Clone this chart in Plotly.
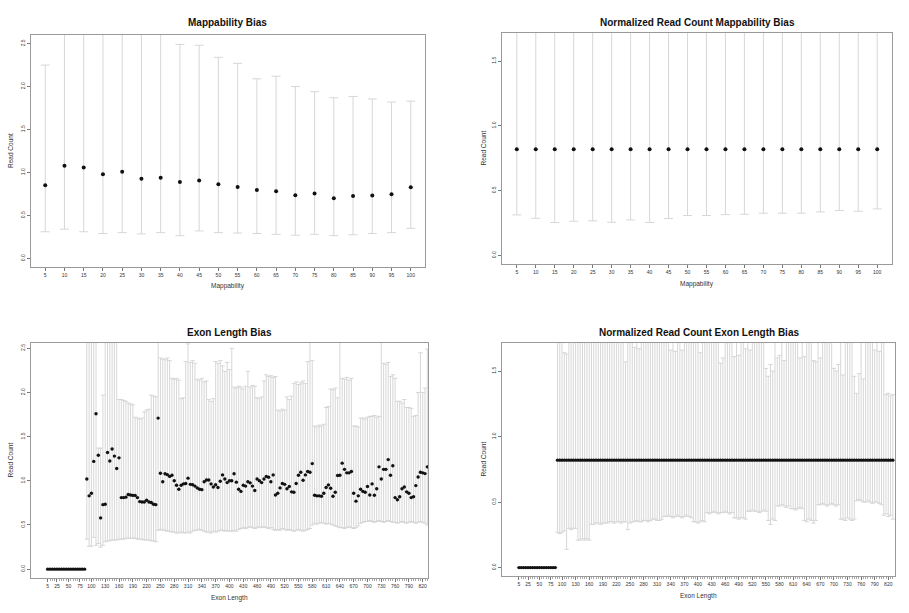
import plotly.graph_objects as go

# ---------------- data ----------------
mappability = [5, 10, 15, 20, 25, 30, 35, 40, 45, 50, 55, 60, 65, 70, 75, 80, 85, 90, 95, 100]
map_tick_text = [str(v) for v in mappability]

map_mean = [0.85, 1.077, 1.058, 0.98, 1.008, 0.927, 0.938, 0.888, 0.908, 0.862,
            0.831, 0.796, 0.781, 0.735, 0.754, 0.70, 0.727, 0.731, 0.746, 0.827]
map_upper = [2.25, 2.8, 2.8, 2.8, 2.8, 2.8, 2.8, 2.49, 2.48, 2.34,
             2.27, 2.09, 2.12, 2.0, 1.94, 1.87, 1.885, 1.855, 1.82, 1.83]
map_lower = [0.31, 0.34, 0.31, 0.29, 0.30, 0.285, 0.30, 0.265, 0.32, 0.30,
             0.295, 0.29, 0.28, 0.27, 0.28, 0.265, 0.275, 0.29, 0.30, 0.35]

norm_map_mean = [0.82, 0.82, 0.82, 0.82, 0.82, 0.82, 0.82, 0.82, 0.82, 0.82,
                 0.82, 0.82, 0.82, 0.82, 0.82, 0.82, 0.82, 0.82, 0.82, 0.82]
norm_map_upper = [1.9, 1.9, 1.9, 1.9, 1.9, 1.9, 1.9, 1.9, 1.9, 1.9,
                  1.9, 1.9, 1.9, 1.9, 1.9, 1.9, 1.9, 1.9, 1.9, 1.9]
norm_map_lower = [0.313, 0.287, 0.254, 0.264, 0.267, 0.256, 0.274, 0.254, 0.285, 0.308,
                  0.308, 0.315, 0.318, 0.326, 0.326, 0.326, 0.336, 0.346, 0.341, 0.359]

exon_length = list(range(5, 835, 5))  # 166 categories: 5, 10, ..., 830
exon_tick_vals = [5, 25, 50, 75, 100, 130, 160, 190, 220, 250, 280, 310, 340, 370, 400,
                  430, 460, 490, 520, 550, 580, 610, 640, 670, 700, 730, 760, 790, 820]
exon_tick_text = [str(v) for v in exon_tick_vals]

zeros17 = [0, 0, 0, 0, 0, 0, 0, 0, 0, 0, 0, 0, 0, 0, 0, 0, 0]

exon_mean = zeros17 + [
    1.02, 0.83, 0.86, 1.22, 1.76, 1.29, 0.58, 0.73, 0.735, 1.32,
    1.225, 1.36, 1.28, 1.14, 1.26, 0.81, 0.81, 0.815, 0.845, 0.84,
    0.835, 0.835, 0.81, 0.765, 0.76, 0.76, 0.78, 0.76, 0.755, 0.735,
    0.73, 1.71, 1.086, 0.99, 1.08, 1.07, 1.05, 1.063, 1.0, 0.95,
    0.905, 0.95, 0.965, 0.97, 1.03, 0.96, 0.955, 0.94, 0.92, 0.905,
    0.90, 0.99, 1.01, 1.01, 0.965, 0.93, 0.955, 0.925, 0.995, 1.067,
    1.02, 0.98, 1.0, 1.0, 1.08, 0.985, 0.905, 0.88, 0.95, 0.94,
    0.99, 0.977, 0.94, 0.89, 1.02, 1.0, 0.98, 1.02, 1.05, 1.04,
    0.99, 1.067, 0.84, 0.86, 0.92, 0.97, 0.96, 0.91, 0.935, 0.875,
    0.87, 0.97, 1.063, 1.097, 1.007, 1.067, 1.105, 1.097, 1.195, 0.837,
    0.83, 0.83, 0.826, 0.86, 0.924, 0.954, 0.916, 0.826, 0.87, 1.06,
    1.063, 1.2, 1.13, 1.09, 1.09, 1.105, 0.86, 0.77, 0.83, 0.905,
    0.88, 0.87, 0.935, 0.84, 0.965, 0.837, 0.91, 1.158, 1.02, 1.13,
    1.13, 1.24, 1.063, 1.17, 0.81, 0.785, 0.82, 0.91, 0.93, 0.875,
    0.86, 0.81, 0.82, 0.946, 1.044, 1.097, 1.09, 1.082, 1.158]

exon_upper = zeros17 + [
    2.8, 2.8, 2.8, 2.8, 2.8,
    1.37, 1.37, 1.97,
    2.8, 2.8, 2.8, 2.8, 2.8, 2.8,
    1.92, 1.92, 1.91, 1.90, 1.88, 1.87, 1.86,
    1.72, 1.71, 1.70, 1.71,
    1.78, 1.80, 1.81,
    1.97, 1.96, 1.95,
    2.8,
    2.39, 2.38, 2.37, 2.39, 2.36,
    2.16, 2.15, 2.16, 2.14, 1.93, 1.94,
    2.35, 2.55, 2.34, 2.36, 2.33,
    2.15, 2.14, 2.16, 2.12, 2.13,
    1.92, 1.90, 1.93,
    2.35, 2.33, 2.36, 2.30, 2.24, 2.34, 2.26, 2.5,
    2.06, 2.05, 2.07, 2.06, 2.04,
    2.07, 2.24, 2.06, 2.08, 2.07,
    1.94, 1.93, 1.95,
    2.13, 2.2, 2.18, 2.19, 2.17, 2.18,
    1.80, 1.79, 1.81, 1.80,
    1.95, 1.92, 1.96,
    2.10, 2.12, 2.09, 2.11, 2.13, 2.10, 2.35,
    2.8, 2.36,
    1.62, 1.61, 1.63, 1.62, 1.64,
    1.83, 1.84,
    2.04, 2.03, 2.05, 1.94,
    2.8,
    2.16, 2.15, 2.17, 2.14, 2.16, 1.62,
    1.62, 1.61, 1.71,
    1.71, 1.70, 1.72, 1.73,
    1.73, 1.74, 1.72, 1.73,
    2.8,
    2.33, 2.32, 2.34, 2.18,
    2.20, 2.16, 1.90,
    1.90, 1.88, 1.92, 1.83,
    1.83, 1.82,
    1.73, 1.74, 2.0,
    2.45, 2.0,
    2.05, 2.49]

exon_lower = zeros17 + [
    0.34, 0.26, 0.26, 0.36, 0.27,
    0.29, 0.25, 0.27,
    0.31, 0.32, 0.32, 0.33, 0.33, 0.33, 0.34, 0.34, 0.34, 0.35,
    0.35, 0.35, 0.35, 0.35, 0.34, 0.34, 0.34, 0.33, 0.33, 0.33,
    0.32, 0.32, 0.31,
    0.44, 0.45, 0.44, 0.44, 0.43, 0.43, 0.42, 0.42, 0.41, 0.41,
    0.42, 0.41, 0.41, 0.42, 0.41, 0.43, 0.44, 0.44, 0.45, 0.44,
    0.43, 0.42, 0.42, 0.41, 0.43, 0.42, 0.43, 0.44, 0.44, 0.43,
    0.44, 0.43,
    0.43, 0.44, 0.43, 0.45, 0.46, 0.47, 0.46, 0.47, 0.48, 0.47,
    0.46, 0.47, 0.48, 0.47, 0.48, 0.47, 0.46, 0.47, 0.45, 0.44,
    0.45, 0.44, 0.46, 0.45, 0.44, 0.45,
    0.44, 0.43, 0.44, 0.45, 0.44, 0.43, 0.44, 0.45, 0.46, 0.50,
    0.52, 0.51, 0.52, 0.53, 0.52, 0.51, 0.52, 0.51, 0.50, 0.49,
    0.48, 0.47, 0.47, 0.46, 0.47, 0.48, 0.47, 0.46, 0.47, 0.49,
    0.52, 0.53, 0.54, 0.54, 0.55, 0.54, 0.53, 0.54, 0.55, 0.54,
    0.53, 0.54, 0.55, 0.54, 0.53,
    0.53, 0.52, 0.53, 0.54, 0.53, 0.52, 0.53, 0.54, 0.53, 0.52,
    0.53, 0.54, 0.53, 0.52, 0.50]

norm_exon_mean = zeros17 + [
    0.82, 0.82, 0.82, 0.82, 0.82, 0.82, 0.82, 0.82, 0.82, 0.82,
    0.82, 0.82, 0.82, 0.82, 0.82, 0.82, 0.82, 0.82, 0.82, 0.82,
    0.82, 0.82, 0.82, 0.82, 0.82, 0.82, 0.82, 0.82, 0.82, 0.82,
    0.82, 0.82, 0.82, 0.82, 0.82, 0.82, 0.82, 0.82, 0.82, 0.82,
    0.82, 0.82, 0.82, 0.82, 0.82, 0.82, 0.82, 0.82, 0.82, 0.82,
    0.82, 0.82, 0.82, 0.82, 0.82, 0.82, 0.82, 0.82, 0.82, 0.82,
    0.82, 0.82, 0.82, 0.82, 0.82, 0.82, 0.82, 0.82, 0.82, 0.82,
    0.82, 0.82, 0.82, 0.82, 0.82, 0.82, 0.82, 0.82, 0.82, 0.82,
    0.82, 0.82, 0.82, 0.82, 0.82, 0.82, 0.82, 0.82, 0.82, 0.82,
    0.82, 0.82, 0.82, 0.82, 0.82, 0.82, 0.82, 0.82, 0.82, 0.82,
    0.82, 0.82, 0.82, 0.82, 0.82, 0.82, 0.82, 0.82, 0.82, 0.82,
    0.82, 0.82, 0.82, 0.82, 0.82, 0.82, 0.82, 0.82, 0.82, 0.82,
    0.82, 0.82, 0.82, 0.82, 0.82, 0.82, 0.82, 0.82, 0.82, 0.82,
    0.82, 0.82, 0.82, 0.82, 0.82, 0.82, 0.82, 0.82, 0.82, 0.82,
    0.82, 0.82, 0.82, 0.82, 0.82, 0.82, 0.82, 0.82, 0.82]

norm_exon_upper = zeros17 + [
    1.9, 1.9, 1.9,
    1.64, 1.63, 1.9,
    1.9, 1.9, 1.9, 1.9, 1.9, 1.9, 1.9, 1.9, 1.9, 1.9, 1.9, 1.9,
    1.9, 1.9, 1.9, 1.9, 1.9, 1.9, 1.9, 1.9, 1.9, 1.9, 1.9, 1.9,
    1.57, 1.9,
    1.9, 1.9,
    1.68, 1.9, 1.67, 1.9,
    1.9, 1.9, 1.9, 1.9, 1.9, 1.9, 1.9, 1.9, 1.9, 1.9, 1.9, 1.9,
    1.66, 1.9, 1.65, 1.9, 1.9, 1.66,
    1.9, 1.9, 1.9, 1.9, 1.9, 1.9, 1.9,
    1.64,
    1.9, 1.9, 1.9, 1.9, 1.9, 1.9, 1.9, 1.9,
    1.56, 1.6, 1.9,
    1.9, 1.9, 1.9,
    1.61, 1.9, 1.62,
    1.9, 1.9,
    1.67, 1.9, 1.66, 1.9,
    1.9, 1.9, 1.9, 1.9, 1.9,
    1.52, 1.46, 1.55, 1.5,
    1.9,
    1.6, 1.62, 1.9, 1.58, 1.9,
    1.9, 1.9, 1.9, 1.9, 1.9,
    1.6, 1.9, 1.61,
    1.9, 1.9, 1.9,
    1.58, 1.57, 1.9, 1.6, 1.9,
    1.9, 1.9, 1.9, 1.9,
    1.52, 1.5, 1.55, 1.9, 1.47,
    1.9, 1.9, 1.9, 1.9,
    1.46, 1.33, 1.48, 1.9, 1.44,
    1.9, 1.9, 1.9, 1.9,
    1.66, 1.9, 1.65, 1.9,
    1.9,
    1.32, 1.33, 1.31, 1.32]

norm_exon_lower = zeros17 + [
    0.27, 0.26, 0.27, 0.28,
    0.14,
    0.30, 0.29, 0.30, 0.30,
    0.21, 0.21, 0.22, 0.21, 0.22, 0.21,
    0.33, 0.33, 0.34, 0.34, 0.33, 0.34, 0.34, 0.34, 0.35, 0.35,
    0.34, 0.35, 0.35, 0.34, 0.35, 0.35,
    0.29,
    0.34, 0.35, 0.35, 0.36, 0.35, 0.35, 0.36, 0.36, 0.35, 0.36,
    0.37, 0.37, 0.36, 0.36, 0.37,
    0.39, 0.39, 0.40, 0.39, 0.38, 0.39, 0.40, 0.39, 0.38, 0.39,
    0.40, 0.39, 0.38,
    0.35, 0.35, 0.34, 0.35, 0.36, 0.35,
    0.42, 0.41, 0.42, 0.43, 0.42, 0.41, 0.42, 0.42, 0.43, 0.42,
    0.41, 0.42,
    0.38, 0.38, 0.37, 0.38, 0.38, 0.37,
    0.43, 0.43, 0.44, 0.43, 0.43, 0.42, 0.43, 0.44, 0.43,
    0.36, 0.33, 0.37, 0.36,
    0.47, 0.47, 0.48, 0.47, 0.46, 0.47,
    0.45, 0.45, 0.44, 0.45, 0.46, 0.45,
    0.36, 0.35, 0.37, 0.36, 0.34, 0.36,
    0.48, 0.48, 0.49, 0.48, 0.47, 0.48, 0.49, 0.48, 0.47, 0.48,
    0.37, 0.37, 0.36, 0.38, 0.37, 0.36, 0.37,
    0.51, 0.52, 0.51,
    0.50, 0.50, 0.51, 0.50, 0.49, 0.50, 0.50, 0.49, 0.48,
    0.40, 0.41, 0.39, 0.40, 0.37]

for arr in (exon_mean, exon_upper, exon_lower, norm_exon_mean, norm_exon_upper, norm_exon_lower):
    assert len(arr) == len(exon_length), len(arr)

panel_titles = ["Mappability Bias", "Normalized Read Count Mappability Bias",
                "Exon Length Bias", "Normalized Read Count Exon Length Bias"]
x_titles = ["Mappability", "Mappability", "Exon Length", "Exon Length"]
y_title = "Read Count"

# ---------------- layout helpers ----------------
W, H = 909, 613
FONT = "Liberation Sans, Arial, sans-serif"
BAR = "#d2d2d2"
FRAME = "#9a9a9a"
TXT = "#333333"

def px_x(p):
    return p / W

def px_y(p):
    return 1 - p / H

# plot boxes in pixels: (left, right, top, bottom)
boxes = [(31, 425, 35, 267), (502, 892, 33, 264), (31, 428, 343, 578), (502, 895, 343, 576)]

fig = go.Figure()

def err_trace(x, mean, upper, lower, xa, ya, msize, cap):
    return go.Scatter(
        x=x, y=mean, mode="markers", xaxis=xa, yaxis=ya, showlegend=False,
        marker=dict(color="#111", size=msize),
        error_y=dict(type="data", symmetric=False,
                     array=[u - m for u, m in zip(upper, mean)],
                     arrayminus=[m - l for m, l in zip(mean, lower)],
                     color=BAR, thickness=0.9, width=cap),
    )

fig.add_trace(err_trace(mappability, map_mean, map_upper, map_lower, "x", "y", 4, 4.5))
fig.add_trace(err_trace(mappability, norm_map_mean, norm_map_upper, norm_map_lower, "x2", "y2", 4, 4.5))
fig.add_trace(err_trace(exon_length, exon_mean, exon_upper, exon_lower, "x3", "y3", 3.4, 2.2))
fig.add_trace(err_trace(exon_length, norm_exon_mean, norm_exon_upper, norm_exon_lower, "x4", "y4", 3.4, 2.2))

x_ranges = [[1.3, 103.7], [1.1, 103.9], [-31.3, 831.5], [-32.5, 834.8]]
y_ranges = [[-0.1, 2.6], [-0.066, 1.716], [-0.1, 2.56], [-0.064, 1.714]]
y_ticks = [[0, 0.5, 1, 1.5, 2, 2.5], [0, 0.5, 1, 1.5], [0, 0.5, 1, 1.5, 2, 2.5], [0, 0.5, 1, 1.5]]

layout = dict(
    width=W, height=H, margin=dict(l=0, r=0, t=0, b=0),
    paper_bgcolor="white", plot_bgcolor="white",
    font=dict(family=FONT, color=TXT),
    showlegend=False,
)

for k, (l, r, t, b) in enumerate(boxes):
    sx = "" if k == 0 else str(k + 1)
    xa = dict(domain=[px_x(l), px_x(r)], range=x_ranges[k], anchor="y" + sx,
              showline=True, mirror=True, linecolor=FRAME, linewidth=1,
              showgrid=False, zeroline=False, ticks="outside", ticklen=3,
              tickcolor="#777", tickwidth=0.8,
              tickfont=dict(size=5, color=TXT, family=FONT))
    if k < 2:
        xa.update(tickmode="array", tickvals=mappability, ticktext=map_tick_text)
    else:
        xa.update(tickmode="array", tickvals=exon_tick_vals, ticktext=exon_tick_text,
                  minor=dict(ticks="outside", tickmode="array", tickvals=exon_length,
                             ticklen=2, tickcolor="#aaa", tickwidth=0.6))
    ya = dict(domain=[px_y(b), px_y(t)], range=y_ranges[k], anchor="x" + sx,
              showline=True, mirror=True, linecolor=FRAME, linewidth=1,
              showgrid=False, zeroline=False, ticks="outside", ticklen=3,
              tickcolor="#777", tickwidth=0.8, tickangle=-90,
              tickmode="array", tickvals=y_ticks[k],
              ticktext=["%.1f" % v for v in y_ticks[k]],
              tickfont=dict(size=5, color=TXT, family=FONT))
    layout["xaxis" + sx] = xa
    layout["yaxis" + sx] = ya

annotations = []
title_y = [23, 22, 332, 332]
xtitle_y = [286, 284, 598, 596]
ytitle_x = [10, 483, 10, 483]
for k, (l, r, t, b) in enumerate(boxes):
    cx = (l + r) / 2
    annotations.append(dict(text="<b>" + panel_titles[k] + "</b>", xref="paper", yref="paper",
                            x=px_x(cx), y=px_y(title_y[k]), showarrow=False,
                            xanchor="center", yanchor="middle",
                            font=dict(size=10, color="#111", family=FONT)))
    annotations.append(dict(text=x_titles[k], xref="paper", yref="paper",
                            x=px_x(cx), y=px_y(xtitle_y[k]), showarrow=False,
                            xanchor="center", yanchor="middle",
                            font=dict(size=6.5, color=TXT, family=FONT)))
    annotations.append(dict(text=y_title, xref="paper", yref="paper",
                            x=px_x(ytitle_x[k]), y=px_y((t + b) / 2), showarrow=False,
                            textangle=-90, xanchor="center", yanchor="middle",
                            font=dict(size=6.5, color=TXT, family=FONT)))
layout["annotations"] = annotations

fig.update_layout(**layout)
fig.write_html("out.html")
